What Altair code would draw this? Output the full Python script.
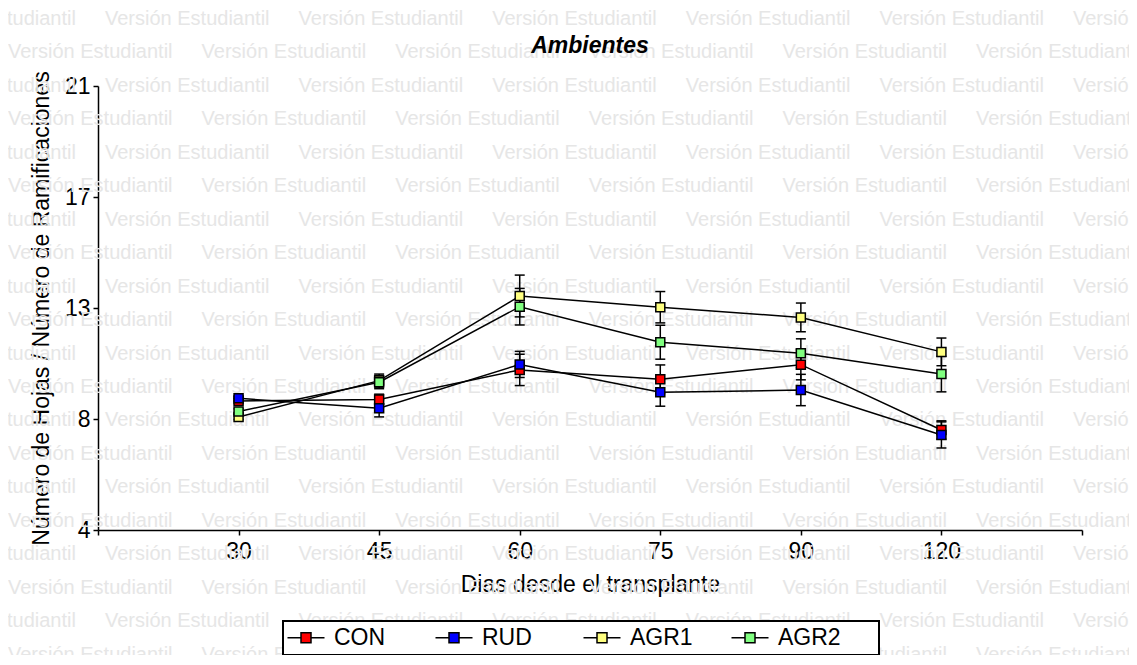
import altair as alt
import pandas as pd

# ---- data ----
days = ["30", "45", "60", "75", "90", "120"]
series_names = ["CON", "RUD", "AGR1", "AGR2"]
series_colors = ["#ff0000", "#0000ff", "#ffff80", "#80ff80"]

con = [8.94, 9.00, 10.13, 9.77, 10.33, 7.83]
rud = [9.04, 8.66, 10.34, 9.27, 9.36, 7.64]
agr1 = [8.33, 9.72, 12.96, 12.53, 12.14, 10.82]
agr2 = [8.54, 9.66, 12.55, 11.19, 10.77, 9.97]

con_se = [0.10, 0.20, 0.60, 0.55, 0.58, 0.35]
rud_se = [0.10, 0.33, 0.50, 0.53, 0.60, 0.50]
agr1_se = [0.10, 0.25, 0.80, 0.60, 0.55, 0.53]
agr2_se = [0.10, 0.25, 0.70, 0.65, 0.55, 0.68]

y_tick_values = [4, 8.25, 12.5, 16.75, 21]
y_tick_labels = ["4", "8", "13", "17", "21"]

title_text = "Ambientes"
x_title = "Dias desde el transplante"
y_title = "Número de Hojas / Número de Ramificaciones"
watermark_text = "Versión Estudiantil"

FONT = "Liberation Sans"

rows = []
for name, vals, ses in zip(series_names, [con, rud, agr1, agr2],
                           [con_se, rud_se, agr1_se, agr2_se]):
    for i, (d, v, e) in enumerate(zip(days, vals, ses)):
        rows.append({"series": name, "day": d, "xi": i + 1, "value": v,
                     "lo": v - e, "hi": v + e})
df = pd.DataFrame(rows)

# x axis: categories on an index scale with one empty slot at each end
x_labels_all = [""] + days + [""]
x_label_expr = "[" + ",".join("'%s'" % s for s in x_labels_all) + "][datum.value]"
y_label_expr = "".join(
    "datum.value == %s ? '%s' : " % (v, l) for v, l in zip(y_tick_values, y_tick_labels)
) + "''"

x_scale = alt.Scale(domain=[0, len(days) + 1], nice=False, zero=False)
y_scale = alt.Scale(domain=[y_tick_values[0], y_tick_values[-1]], nice=False, zero=False)
x_axis = alt.Axis(values=list(range(len(days) + 2)), labelExpr=x_label_expr,
                  title=x_title, labelPadding=5, titlePadding=10)
y_axis = alt.Axis(values=y_tick_values, labelExpr=y_label_expr, title=y_title,
                  labelPadding=3, titlePadding=11)


def X():
    return alt.X("xi:Q", scale=x_scale, axis=x_axis)


def Y(field):
    return alt.Y(field + ":Q", scale=y_scale, axis=y_axis)


base = alt.Chart(df)

rules = base.mark_rule(color="black", strokeWidth=1.5).encode(
    x=X(), y=Y("lo"), y2="hi:Q", detail="series:N")
cap_lo = base.mark_tick(orient="horizontal", size=10, thickness=1.5, color="black",
                        opacity=1).encode(x=X(), y=Y("lo"), detail="series:N")
cap_hi = base.mark_tick(orient="horizontal", size=10, thickness=1.5, color="black",
                        opacity=1).encode(x=X(), y=Y("hi"), detail="series:N")
lines = base.mark_line(color="black", strokeWidth=1.5).encode(
    x=X(), y=Y("value"), detail="series:N")

# legend symbol: line with a square in the middle; the trailing move-to only
# widens each entry so that the four entries are evenly spaced
legend_path = "M-1.85,0H-0.5M0.5,0H1.85M-0.5,-0.5H0.5V0.5H-0.5ZM12.1,0"
points = base.mark_square(size=81, stroke="black", strokeWidth=1.5, opacity=1).encode(
    x=X(), y=Y("value"),
    fill=alt.Fill("series:N",
                  scale=alt.Scale(domain=series_names, range=series_colors),
                  sort=series_names,
                  legend=alt.Legend(
                      title=None, orient="none", legendX=185, legendY=535,
                      direction="horizontal", columns=4,
                      symbolType=legend_path, symbolSize=400, symbolOffset=6.5,
                      symbolStrokeColor="black", symbolStrokeWidth=1.5,
                      symbolOpacity=1,
                      labelFont=FONT, labelFontSize=23, labelColor="black",
                      labelOffset=16.5, columnPadding=2,
                      padding=5, strokeColor="black",
                      fillColor="white")),
)

data_layers = alt.layer(rules, cap_lo, cap_hi, lines, points)

# background watermark text
wm = alt.Chart(alt.sequence(0, 140, as_="i")).transform_calculate(
    r="floor(datum.i / 7)", c="datum.i % 7"
).transform_calculate(
    wx="(datum.r % 2 == 0 ? -186.6 : -90) + datum.c * 193.6",
    wy="-61 + datum.r * 33.45",
).mark_text(text=watermark_text, align="left", baseline="alphabetic", fontSize=20,
            font=FONT, color="#e6e6e6").encode(
    x=alt.X("wx:Q", scale=None, axis=None),
    y=alt.Y("wy:Q", scale=None, axis=None),
)

chart = alt.layer(wm, data_layers).resolve_scale(
    x="independent", y="independent"
).properties(
    width=984, height=444,
    autosize=alt.AutoSizeParams(type="none"),
    padding={"left": 90, "top": 78, "right": 47, "bottom": 125},
    title=alt.TitleParams(title_text, font=FONT, fontSize=23, fontWeight="bold",
                          fontStyle="italic", color="black", anchor="middle",
                          frame="group", baseline="alphabetic", offset=0, dy=67,
                          zindex=1),
).configure_view(stroke=None).configure_axis(
    domainColor="black", domainWidth=1.5, tickColor="black", tickWidth=1.5,
    tickSize=5, labelFont=FONT, labelFontSize=23, labelColor="black",
    titleFont=FONT, titleFontSize=23, titleFontWeight="normal", titleColor="black",
    grid=False, zindex=1,
).configure_legend(strokeWidth=2)

chart.save("out.html", embed_options={"renderer": "svg", "actions": False})
